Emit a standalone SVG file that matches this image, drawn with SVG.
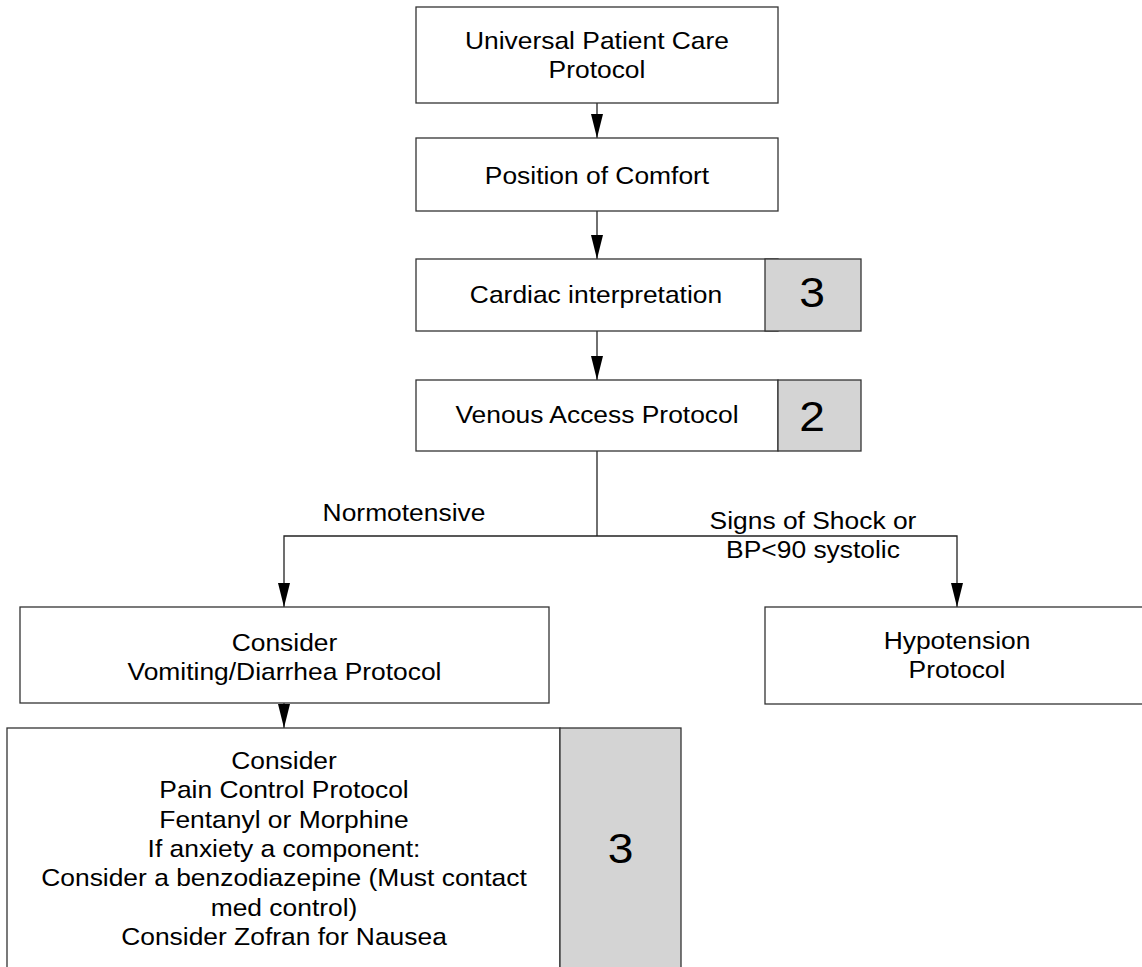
<svg xmlns="http://www.w3.org/2000/svg" width="1142" height="967" viewBox="0 0 1142 967">
  <style>
    .box { fill: #ffffff; stroke: #333333; stroke-width: 1.3; }
    .tag { fill: #d4d4d4; stroke: #333333; stroke-width: 1.3; }
    .lbl { font-family: "Liberation Sans", Arial, sans-serif; font-size: 24px; fill: #000000; text-anchor: middle; }
    .num { font-family: "Liberation Sans", Arial, sans-serif; font-size: 42px; fill: #000000; text-anchor: middle; }
    .wire { fill: none; stroke: #222222; stroke-width: 1.3; }
  </style>
  <defs>
    <marker id="arrow" markerUnits="userSpaceOnUse" markerWidth="24" markerHeight="12" refX="24" refY="6" orient="auto">
      <path d="M0,0 L24,6 L0,12 Z" fill="#000000"/>
    </marker>
  </defs>

  <rect x="0" y="0" width="1142" height="967" fill="#ffffff"/>

  <!-- connectors -->
  <g id="connectors">
    <line class="wire" x1="597" y1="103" x2="597" y2="138" marker-end="url(#arrow)"/>
    <line class="wire" x1="597" y1="211" x2="597" y2="259" marker-end="url(#arrow)"/>
    <line class="wire" x1="597" y1="331" x2="597" y2="380" marker-end="url(#arrow)"/>
    <line class="wire" x1="597" y1="451" x2="597" y2="536"/>
    <polyline class="wire" points="597,536 284,536 284,607" marker-end="url(#arrow)"/>
    <polyline class="wire" points="597,536 957,536 957,607" marker-end="url(#arrow)"/>
    <line class="wire" x1="284" y1="703" x2="284" y2="728" marker-end="url(#arrow)"/>
    <text class="lbl" transform="translate(404,521) scale(1.1,1)">Normotensive</text>
    <text class="lbl" transform="translate(813,529) scale(1.1,1)">Signs of Shock or</text>
    <text class="lbl" transform="translate(813,558) scale(1.1,1)">BP&lt;90 systolic</text>
  </g>

  <g id="universal-care">
    <rect class="box" x="416" y="7" width="362" height="96"/>
    <text class="lbl" transform="translate(597,49) scale(1.1,1)">Universal Patient Care</text>
    <text class="lbl" transform="translate(597,78) scale(1.1,1)">Protocol</text>
  </g>

  <g id="position-comfort">
    <rect class="box" x="416" y="138" width="362" height="73"/>
    <text class="lbl" transform="translate(597,184) scale(1.1,1)">Position of Comfort</text>
  </g>

  <g id="cardiac">
    <rect class="box" x="416" y="259" width="362" height="72"/>
    <rect class="tag" x="765" y="259" width="96" height="72"/>
    <text class="lbl" transform="translate(596,303) scale(1.1,1)">Cardiac interpretation</text>
    <text class="num" transform="translate(812,307) scale(1.1,1)">3</text>
  </g>

  <g id="venous-access">
    <rect class="box" x="416" y="380" width="362" height="71"/>
    <rect class="tag" x="778" y="380" width="83" height="71"/>
    <text class="lbl" transform="translate(597,423) scale(1.1,1)">Venous Access Protocol</text>
    <text class="num" transform="translate(812,431) scale(1.1,1)">2</text>
  </g>

  <g id="vomiting">
    <rect class="box" x="20" y="607" width="529" height="96"/>
    <text class="lbl" transform="translate(284.5,651) scale(1.1,1)">Consider</text>
    <text class="lbl" transform="translate(284.5,680) scale(1.1,1)">Vomiting/Diarrhea Protocol</text>
  </g>

  <g id="hypotension">
    <rect class="box" x="765" y="607" width="385" height="97"/>
    <text class="lbl" transform="translate(957,649) scale(1.1,1)">Hypotension</text>
    <text class="lbl" transform="translate(957,678) scale(1.1,1)">Protocol</text>
  </g>

  <g id="pain-control">
    <rect class="box" x="7" y="728" width="553" height="260"/>
    <rect class="tag" x="560" y="728" width="121" height="260"/>
    <text class="lbl" transform="translate(284,769) scale(1.1,1)">Consider</text>
    <text class="lbl" transform="translate(284,798) scale(1.1,1)">Pain Control Protocol</text>
    <text class="lbl" transform="translate(284,827.5) scale(1.1,1)">Fentanyl or Morphine</text>
    <text class="lbl" transform="translate(284,857) scale(1.1,1)">If anxiety a component:</text>
    <text class="lbl" transform="translate(284,886) scale(1.1,1)">Consider a benzodiazepine (Must contact</text>
    <text class="lbl" transform="translate(284,915.5) scale(1.1,1)">med control)</text>
    <text class="lbl" transform="translate(284,945) scale(1.1,1)">Consider Zofran for Nausea</text>
    <text class="num" transform="translate(620.5,863) scale(1.1,1)">3</text>
  </g>
</svg>
